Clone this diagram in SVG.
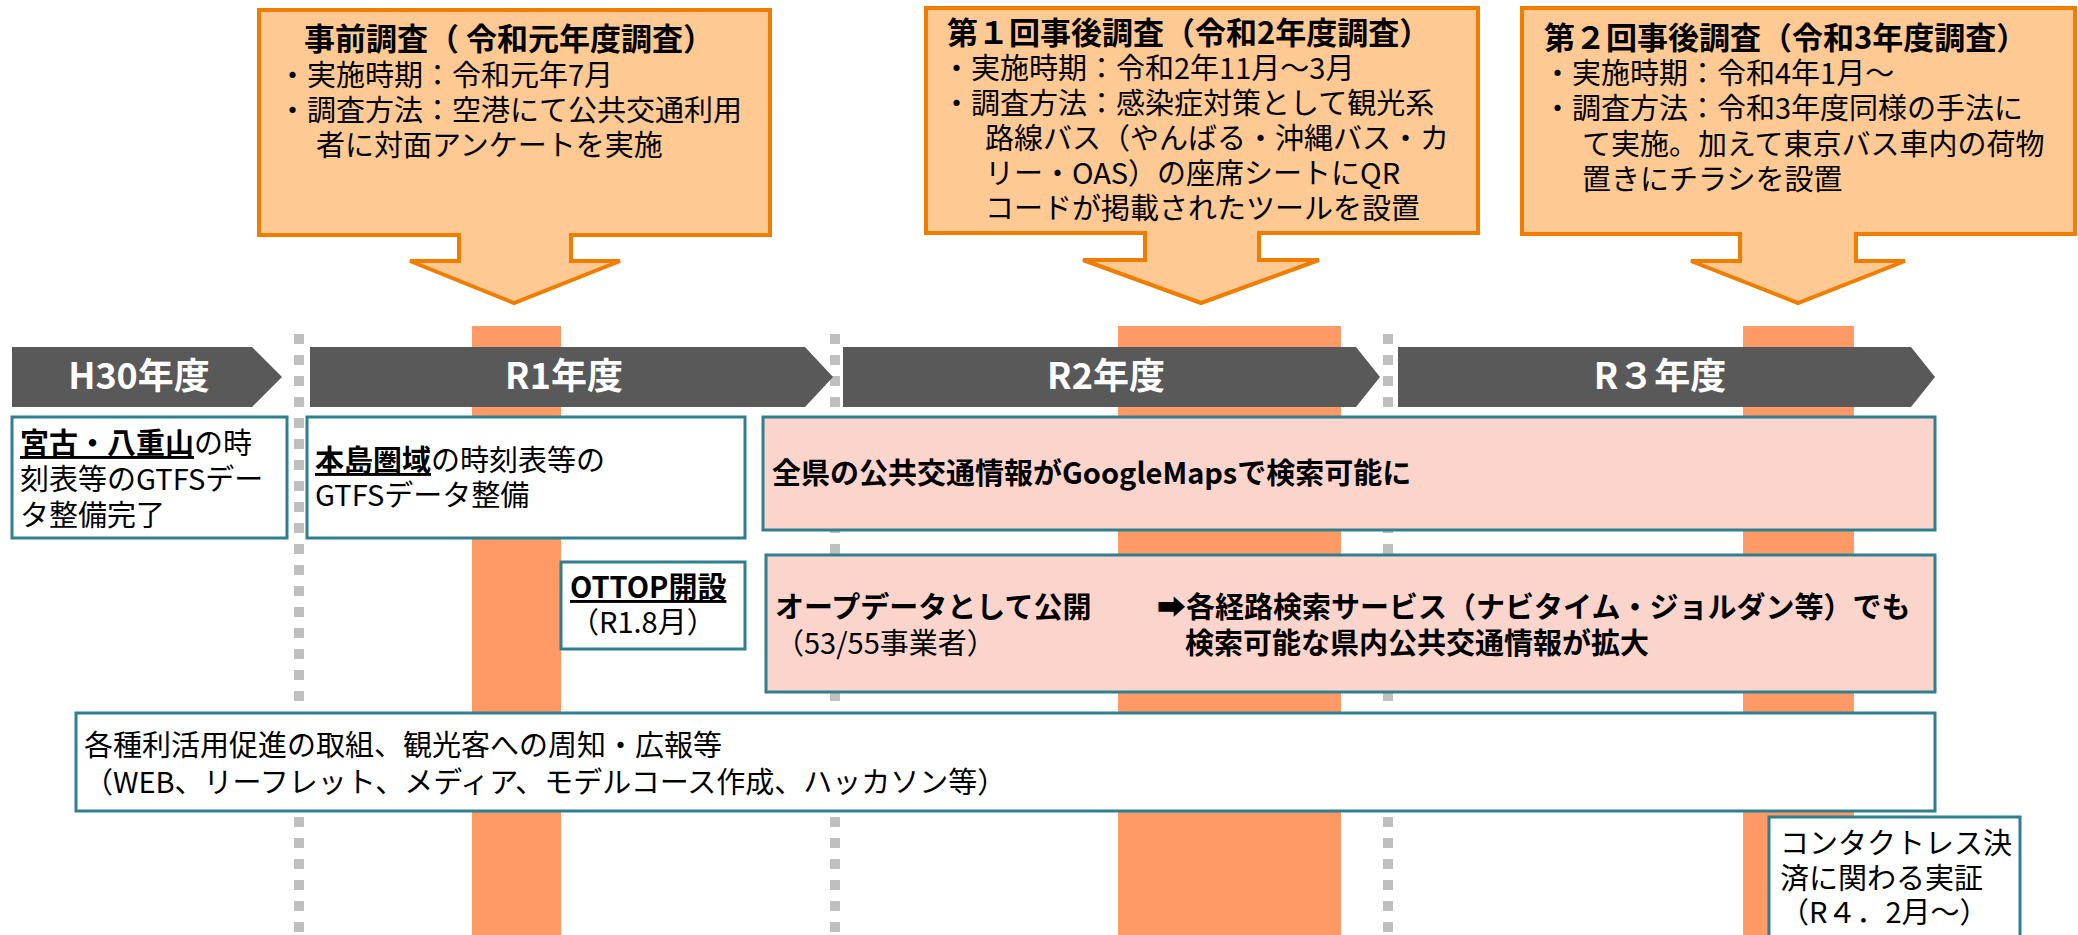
<svg xmlns="http://www.w3.org/2000/svg" width="2078" height="935" viewBox="0 0 2078 935">
<style>
text{font-family:"Noto Sans CJK JP","Noto Sans CJK SC",sans-serif;fill:#000;}
.t{font-size:29px;}
.h{font-size:31px;font-weight:bold;}
.b{font-weight:bold;}
.u{text-decoration:underline;}
.yr{font-size:36px;font-weight:bold;fill:#fff;text-anchor:middle;}
.call{fill:#ffc993;stroke:#f07d00;stroke-width:4;stroke-linejoin:miter;}
.bar{fill:#ff9966;}
.tl{fill:#595959;}
.wbox{fill:#fff;stroke:#2f7f8f;stroke-width:3;}
.pbox{fill:#fbd5cc;stroke:#2f7f8f;stroke-width:3;}
.div{stroke:#bfbfbf;stroke-width:10;stroke-dasharray:10 11;fill:none;}
</style>
<rect width="2078" height="935" fill="#fff"/>
<g id="bars">
<rect class="bar" x="472" y="326" width="89" height="609"/>
<rect class="bar" x="1118" y="326" width="223" height="609"/>
<rect class="bar" x="1743" y="326" width="111" height="609"/>
</g>
<g id="dividers">
<line class="div" x1="299" y1="334" x2="299" y2="935"/>
<line class="div" x1="835" y1="334" x2="835" y2="935"/>
<line class="div" x1="1388" y1="334" x2="1388" y2="935"/>
</g>
<g id="connectors"></g>
<g id="timeline">
<g id="h30"><polygon class="tl" points="12,347 252,347 282,377 252,407 12,407"/><text class="yr" x="139" y="389">H30年度</text></g>
<g id="r1"><polygon class="tl" points="310,347 805,347 833,377 805,407 310,407"/><text class="yr" x="564" y="389">R1年度</text></g>
<g id="r2"><polygon class="tl" points="843,347 1356,347 1380,377 1356,407 843,407"/><text class="yr" x="1106" y="389">R2年度</text></g>
<g id="r3"><polygon class="tl" points="1398,347 1911,347 1935,377 1911,407 1398,407"/><text class="yr" x="1660" y="389">R３年度</text></g>
</g>
<g id="survey1">
<path class="call" d="M259,10 H770 V235 H571 V261 H620 L514,303 L410,261 H459 V235 H259 Z"/>
<text class="h" x="304" y="50">事前調査（ 令和元年度調査）</text>
<text class="t" x="278" y="86">・実施時期：令和元年7月</text>
<text class="t" x="278" y="121">・調査方法：空港にて公共交通利用</text>
<text class="t" x="316" y="156">者に対面アンケートを実施</text>
</g>
<g id="survey2">
<path class="call" d="M926,8 H1478 V233 H1259 V260 H1319 L1201,303 L1083,260 H1145 V233 H926 Z"/>
<text class="h" x="947" y="44">第１回事後調査（令和2年度調査）</text>
<text class="t" x="942" y="79">・実施時期：令和2年11月～3月</text>
<text class="t" x="942" y="114">・調査方法：感染症対策として観光系</text>
<text class="t" x="985" y="149">路線バス（やんばる・沖縄バス・カ</text>
<text class="t" x="985" y="184">リー・OAS）の座席シートにQR</text>
<text class="t" x="985" y="219">コードが掲載されたツールを設置</text>
</g>
<g id="survey3">
<path class="call" d="M1522,8 H2075 V234 H1856 V261 H1905 L1798,303 L1691,261 H1740 V234 H1522 Z"/>
<text class="h" x="1544" y="49">第２回事後調査（令和3年度調査）</text>
<text class="t" x="1543" y="84">・実施時期：令和4年1月～</text>
<text class="t" x="1543" y="119">・調査方法：令和3年度同様の手法に</text>
<text class="t" x="1582" y="155">て実施。加えて東京バス車内の荷物</text>
<text class="t" x="1582" y="190">置きにチラシを設置</text>
</g>
<g id="miyako">
<rect class="wbox" x="12" y="417" width="275" height="121"/>
<text class="t" x="20" y="454"><tspan class="b u">宮古・八重山</tspan>の時</text>
<text class="t" x="20" y="490">刻表等のGTFSデー</text>
<text class="t" x="20" y="526">タ整備完了</text>
</g>
<g id="honto">
<rect class="wbox" x="307" y="417" width="438" height="121"/>
<text class="t" x="315" y="471"><tspan class="b u">本島圏域</tspan>の時刻表等の</text>
<text class="t" x="315" y="506">GTFSデータ整備</text>
</g>
<g id="ottop">
<rect class="wbox" x="561" y="562" width="184" height="87"/>
<text class="t" x="570" y="598"><tspan class="b u">OTTOP開設</tspan></text>
<text class="t" x="570" y="633">（R1.8月）</text>
</g>
<g id="googlemaps">
<rect class="pbox" x="763" y="417" width="1172" height="113"/>
<text class="t b" x="772" y="484">全県の公共交通情報がGoogleMapsで検索可能に</text>
</g>
<g id="opendata">
<rect class="pbox" x="766" y="555" width="1169" height="137"/>
<text class="t b" x="775" y="618">オープデータとして公開</text>
<text class="t" x="775" y="654">（53/55事業者）</text>
<text class="t b" x="1157" y="618">➡各経路検索サービス（ナビタイム・ジョルダン等）でも</text>
<text class="t b" x="1185" y="654">検索可能な県内公共交通情報が拡大</text>
</g>
<g id="promotion">
<rect class="wbox" x="76" y="713" width="1859" height="98"/>
<text class="t" x="84" y="756">各種利活用促進の取組、観光客への周知・広報等</text>
<text class="t" x="84" y="793">（WEB、リーフレット、メディア、モデルコース作成、ハッカソン等）</text>
</g>
<g id="contactless">
<rect class="wbox" x="1769" y="817" width="251" height="130"/>
<text class="t" x="1780" y="854">コンタクトレス決</text>
<text class="t" x="1780" y="889">済に関わる実証</text>
<text class="t" x="1780" y="923">（R４．2月～）</text>
</g>
</svg>
